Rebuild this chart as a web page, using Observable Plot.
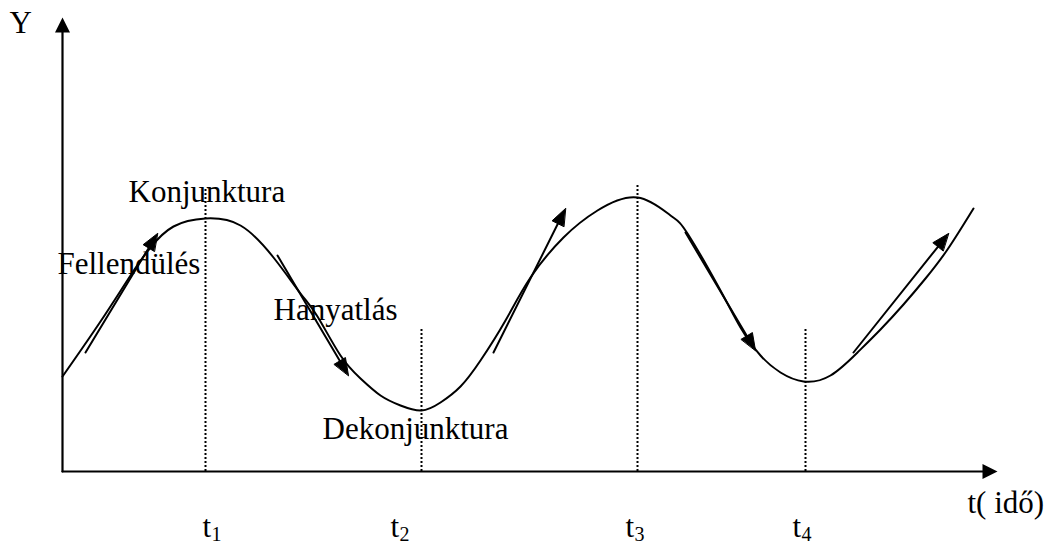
<!DOCTYPE html>
<html><head><meta charset="utf-8">
<script src="https://cdn.jsdelivr.net/npm/d3@7"></script>
<script src="https://cdn.jsdelivr.net/npm/@observablehq/plot@0.6"></script>
<style>body{margin:0;background:#fff}</style>
</head><body><div id="chart"></div>
<script>
// Business cycle curve (time t, output Y)
const curveT = [0, 38, 68, 88, 111, 143, 178, 211, 238, 255, 278, 298, 318, 338, 359, 378, 398, 418, 443, 468, 501, 535, 575, 608, 625, 658, 678, 698, 718, 741, 768, 795, 818, 841, 863, 885, 911];
const curveY = [95, 150, 196, 224, 245, 253, 246, 214, 178, 155, 116, 93, 76, 66, 61, 69, 85, 111, 151, 194, 234, 261, 274, 256, 238, 181, 144, 116, 99, 90, 96, 119, 142, 167, 193, 222, 263];

// Direction arrows drawn beside the curve
const arrowT1 = [23, 215, 431, 623, 791];
const arrowY1 = [119, 216, 119, 239, 119];
const arrowT2 = [95, 286, 503, 693, 886];
const arrowY2 = [238, 96, 263, 121, 238];

// Axes (with arrowheads)
const axisT1 = [0, 0];
const axisY1 = [0, 0];
const axisT2 = [0, 935];
const axisY2 = [454, 0];

// Turning points t1..t4 (dotted guides)
const turnT = [143, 359, 575, 743];
const turnTop = [283, 144, 288, 144];
const tickSub = ["1", "2", "3", "4"];
const tickLabelT = [140, 328, 563, 730];

// Phase labels
const phaseNames = ["Konjunktura", "Fellendülés", "Hanyatlás", "Dekonjunktura"];
const phaseT = [66, -5, 211, 260];
const phaseY = [270, 198, 152, 33];

const font = "'Liberation Serif', 'Times New Roman', serif";

function arrowParts(x1, y1, x2, y2, L, W) {
  const lines = [], heads = [];
  x1.forEach((_, i) => {
    const dx = x2[i] - x1[i], dy = y2[i] - y1[i];
    const d = Math.hypot(dx, dy), ux = dx / d, uy = dy / d;
    const bx = x2[i] - L * ux, by = y2[i] - L * uy;
    lines.push({id: i, x: x1[i], y: y1[i]}, {id: i, x: bx + ux, y: by + uy});
    heads.push({id: i, x: x2[i], y: y2[i]},
               {id: i, x: bx - uy * W / 2, y: by + ux * W / 2},
               {id: i, x: bx + uy * W / 2, y: by - ux * W / 2});
  });
  return {lines, heads};
}

const curve = curveT.map((t, i) => ({t, y: curveY[i]}));
const arr = arrowParts(arrowT1, arrowY1, arrowT2, arrowY2, 17, 13);
const ax = arrowParts(axisT1, axisY1, axisT2, axisY2, 15, 15);
const guides = turnT.map((t, i) => ({t, top: turnTop[i]}));
const ticks = tickSub.map((s, i) => ({t: tickLabelT[i], s}));
const phases = phaseNames.map((n, i) => ({n, t: phaseT[i], y: phaseY[i]}));

const chart = Plot.plot({
  width: 1053,
  height: 545,
  margin: 0,
  x: {domain: [-62, 991], range: [0, 1053], axis: null},
  y: {domain: [-74, 471], range: [545, 0], axis: null},
  style: {fontFamily: font, background: "#fff"},
  marks: [
    Plot.ruleX(guides, {x: "t", y1: 0, y2: "top", stroke: "#000", strokeWidth: 2, strokeDasharray: "2,2"}),
    Plot.line(ax.lines, {x: "x", y: "y", z: "id", stroke: "#000", strokeWidth: 2.2}),
    Plot.line(ax.heads, {x: "x", y: "y", z: "id", fill: "#000", stroke: "none", curve: "linear-closed"}),
    Plot.line(curve, {x: "t", y: "y", stroke: "#000", strokeWidth: 2, curve: "natural"}),
    Plot.line(arr.lines, {x: "x", y: "y", z: "id", stroke: "#000", strokeWidth: 2}),
    Plot.line(arr.heads, {x: "x", y: "y", z: "id", fill: "#000", stroke: "#000", strokeWidth: 1, curve: "linear-closed"}),
    Plot.text(phases, {x: "t", y: "y", text: "n", textAnchor: "start", lineAnchor: "bottom", fontSize: 31, fill: "#000"}),
    Plot.text(["Y"], {x: -53, y: 439, text: d => d, textAnchor: "start", lineAnchor: "bottom", fontSize: 31, fill: "#000"}),
    Plot.text(["t( idő)"], {x: 905, y: -41, text: d => d, textAnchor: "start", lineAnchor: "bottom", fontSize: 31, fill: "#000"}),
    Plot.text(ticks, {x: "t", y: -65, text: () => "t", textAnchor: "start", lineAnchor: "bottom", fontSize: 31, fill: "#000"}),
    Plot.text(ticks, {x: "t", y: -69, dx: 9, text: "s", textAnchor: "start", lineAnchor: "bottom", fontSize: 20, fill: "#000"})
  ]
});
document.getElementById("chart").appendChild(chart);
</script>
</body></html>
